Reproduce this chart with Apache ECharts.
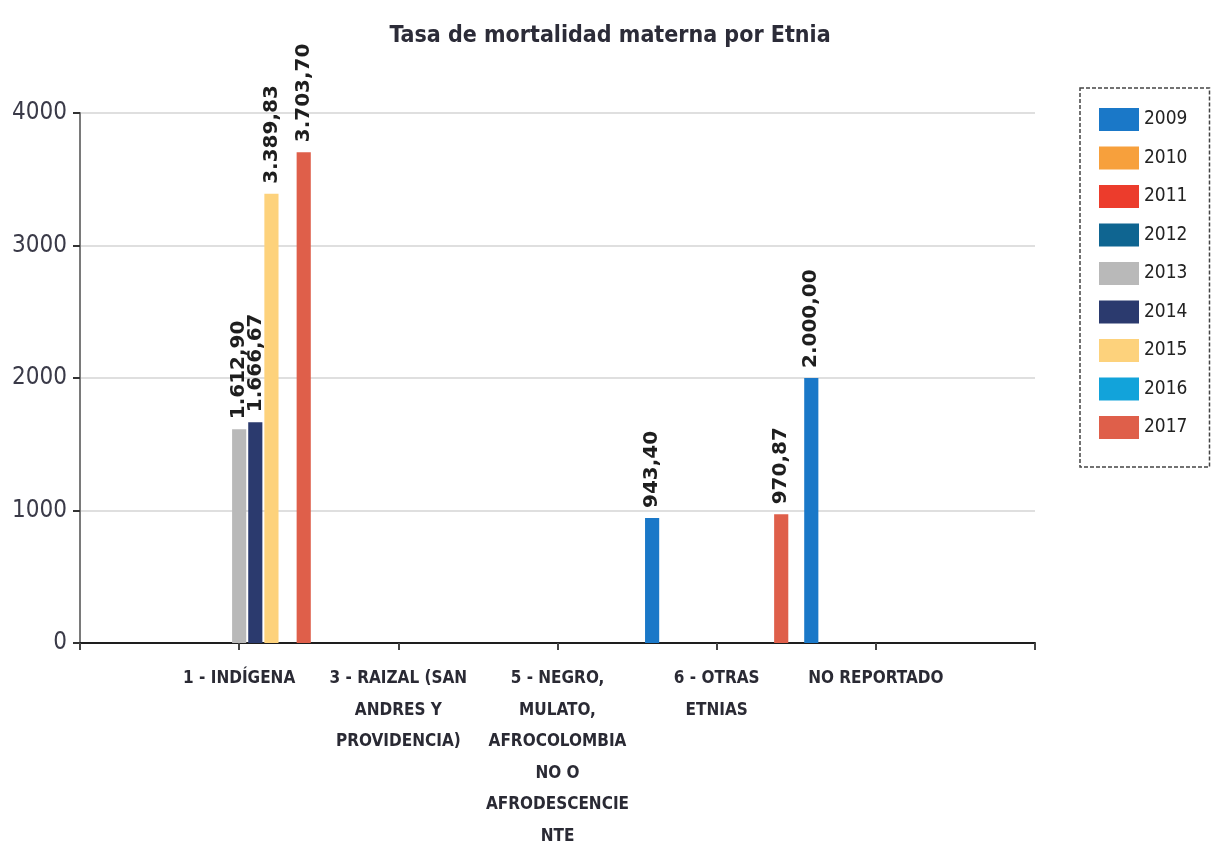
<!DOCTYPE html>
<html>
<head>
<meta charset="utf-8">
<title>Tasa de mortalidad materna por Etnia</title>
<script src="https://cdn.jsdelivr.net/npm/echarts@6/dist/echarts.min.js"></script>
<style>
    html, body { margin: 0; padding: 0; background: #fff; }
    #chart { width: 1217px; height: 841px; }
</style>
</head>
<body>
<div id="chart"></div>
<script>
    // categorias (vacias en los extremos para que el eje empiece y termine en blanco)
    var categorias = ['', '1 - INDÍGENA', '3 - RAIZAL (SAN\nANDRES Y\nPROVIDENCIA)',
        '5 - NEGRO,\nMULATO,\nAFROCOLOMBIA\nNO O\nAFRODESCENCIE\nNTE', '6 - OTRAS\nETNIAS', 'NO REPORTADO', ''];
    var anios = ['2009', '2010', '2011', '2012', '2013', '2014', '2015', '2016', '2017'];
    var colores = ['#1a78c8', '#f7a03c', '#ec3c2c', '#0f6591', '#b9b9b9', '#2b3a6e', '#fdd27c', '#12a3da', '#df5f4a'];

    var v2009 = [null, null, null, null, 943.40, 2000.00, null];
    var v2010 = [null, null, null, null, null, null, null];
    var v2011 = [null, null, null, null, null, null, null];
    var v2012 = [null, null, null, null, null, null, null];
    var v2013 = [null, 1612.90, null, null, null, null, null];
    var v2014 = [null, 1666.67, null, null, null, null, null];
    var v2015 = [null, 3389.83, null, null, null, null, null];
    var v2016 = [null, null, null, null, null, null, null];
    var v2017 = [null, 3703.70, null, null, 970.87, null, null];
    var valores = [v2009, v2010, v2011, v2012, v2013, v2014, v2015, v2016, v2017];

    var ticksY = [0, 1000, 2000, 3000, 4000];

    var condensed = "'DejaVu Sans Condensed', 'Liberation Sans', sans-serif";

    // formato 1.612,90
    function formato(n) {
        var partes = n.toFixed(2).split('.');
        partes[0] = partes[0].replace(/\B(?=(\d{3})+(?!\d))/g, '.');
        return partes.join(',');
    }

    var series = anios.map(function (anio, i) {
        return {
            name : anio,
            type : 'bar',
            barGap : '14%',
            barCategoryGap : '10%',
            itemStyle : { color : colores[i] },
            label : {
                show : true,
                position : 'top',
                rotate : 90,
                align : 'left',
                verticalAlign : 'middle',
                distance : 10,
                color : '#1e1e1e',
                fontFamily : "'DejaVu Sans', sans-serif",
                fontWeight : 'bold',
                fontSize : 20,
                formatter : function (p) { return formato(p.value); }
            },
            data : valores[i]
        };
    });

    var option = {
        animation : false,
        backgroundColor : '#fff',
        title : {
            text : 'Tasa de mortalidad materna por Etnia',
            left : 605,
            textAlign : 'center',
            top : 20,
            textStyle : { fontFamily : condensed, fontSize : 23, fontWeight : 'bold', color : '#2c2c38' }
        },
        legend : {
            orient : 'vertical',
            left : 1080,
            top : 88,
            data : anios,
            icon : 'rect',
            itemWidth : 40,
            itemHeight : 23,
            itemGap : 15.5,
            padding : [20, 22, 28, 19],
            borderColor : '#444',
            borderWidth : 1.5,
            borderType : [4, 2],
            textStyle : { fontFamily : condensed, fontSize : 19, color : '#222' }
        },
        grid : { left : 80, right : 182, top : 113, bottom : 198, outerBoundsMode : 'none', containLabel : false },
        xAxis : {
            type : 'category',
            boundaryGap : false,
            data : categorias,
            axisLine : { lineStyle : { color : '#1e1e1e', width : 2 } },
            axisTick : { show : true, length : 7, lineStyle : { color : '#444', width : 2 } },
            axisLabel : {
                interval : 0,
                margin : 20,
                fontFamily : condensed,
                fontWeight : 'bold',
                fontSize : 17,
                lineHeight : 31.5,
                color : '#2a2a34'
            }
        },
        yAxis : {
            type : 'value',
            min : ticksY[0],
            max : ticksY[ticksY.length - 1],
            interval : 1000,
            axisLine : { show : true, lineStyle : { color : '#7a7a7a', width : 2 } },
            axisTick : { show : true, length : 7, lineStyle : { color : '#333', width : 2 } },
            axisLabel : {
                margin : 13,
                fontFamily : condensed,
                fontSize : 24,
                color : '#3a3a48',
                formatter : function (v) { return String(v); }
            },
            splitLine : { lineStyle : { color : '#d4d4d4', width : 1.5 } }
        },
        series : series
    };

    var chart = echarts.init(document.getElementById('chart'), null, { renderer : 'canvas' });
    chart.setOption(option);
</script>
</body>
</html>
